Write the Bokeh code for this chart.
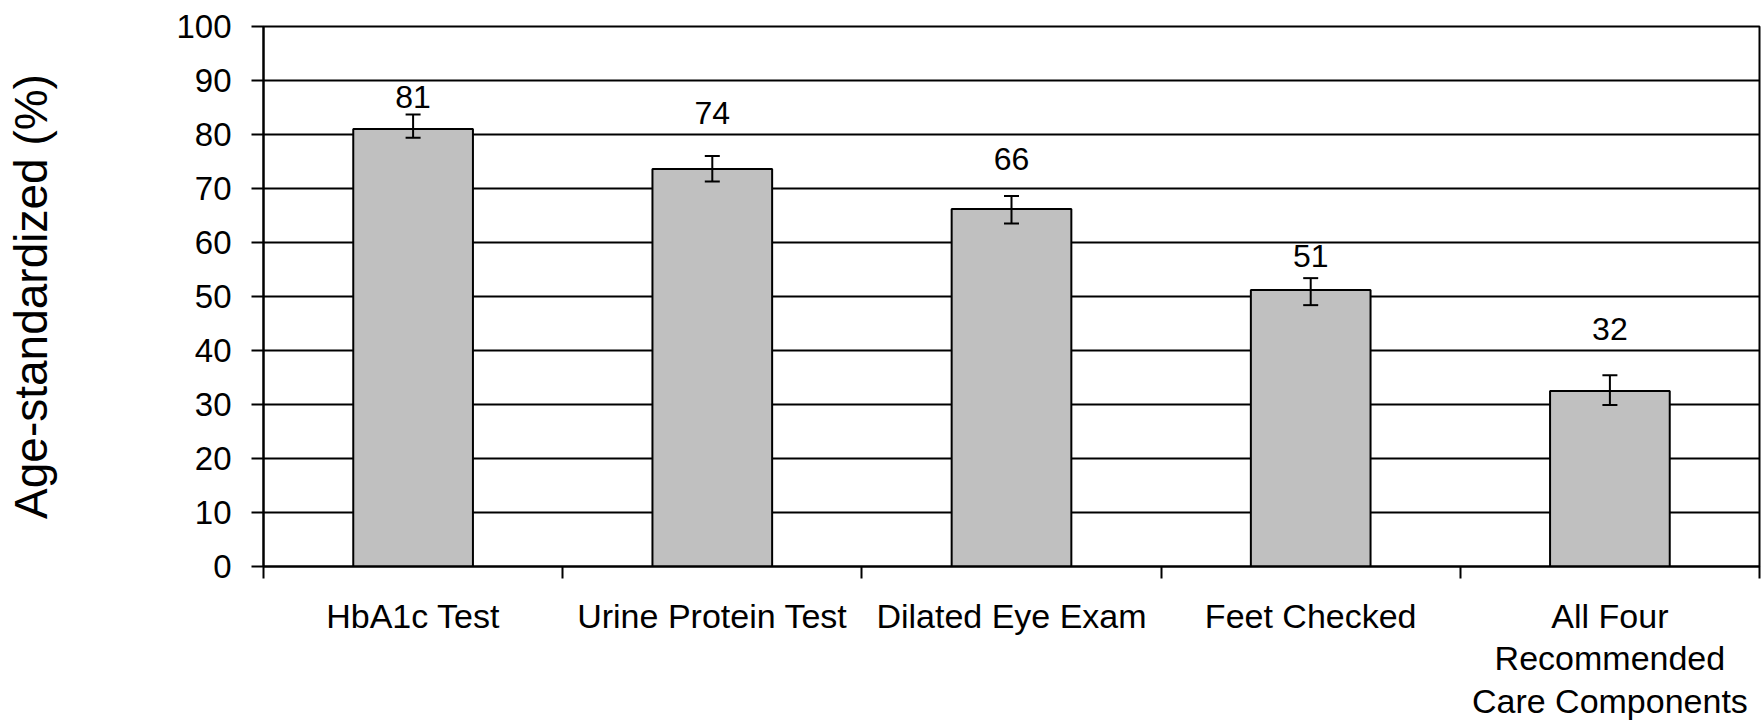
from bokeh.plotting import figure
from bokeh.models import ColumnDataSource, Range1d, FixedTicker, Whisker, TeeHead, LabelSet
from bokeh.core.properties import value
from bokeh.embed import file_html
from bokeh.resources import INLINE

# ---- data ----
categories = ["HbA1c Test", "Urine Protein Test", "Dilated Eye Exam", "Feet Checked",
              "All Four\nRecommended\nCare Components"]
values = [81.0, 73.6, 66.2, 51.2, 32.5]
err_upper = [83.7, 76.0, 68.6, 53.4, 35.4]
err_lower = [79.4, 71.3, 63.5, 48.4, 29.9]
value_labels = ["81", "74", "66", "51", "32"]
label_y = [85.0, 81.9, 73.4, 55.5, 42.0]
y_ticks = [0, 10, 20, 30, 40, 50, 60, 70, 80, 90, 100]

FONT = "Liberation Sans"
n = len(categories)
centers = [i + 0.5 for i in range(n)]

src = ColumnDataSource(dict(x=centers, top=values, up=err_upper, lo=err_lower,
                            lab=value_labels, ly=label_y))

p = figure(width=1762, height=722, output_backend="svg", toolbar_location=None,
           x_range=Range1d(0, n), y_range=Range1d(0, 100),
           min_border_left=263, min_border_right=3, min_border_top=26, min_border_bottom=155)
p.outline_line_color = "black"
p.outline_line_width = 2
p.background_fill_color = "white"
p.border_fill_color = "white"

# grid
p.xgrid.grid_line_color = None
p.ygrid.ticker = FixedTicker(ticks=y_ticks)
p.ygrid.grid_line_color = "black"
p.ygrid.grid_line_width = 2
p.ygrid.grid_line_alpha = 1

# bars
p.vbar(x="x", top="top", width=0.40, source=src, fill_color="#C0C0C0",
       line_color="black", line_width=2)

# error bars
w = Whisker(base="x", upper="up", lower="lo", source=src, line_color="black", line_width=2,
            level="annotation",
            upper_head=TeeHead(size=15, line_color="black", line_width=2),
            lower_head=TeeHead(size=15, line_color="black", line_width=2))
p.add_layout(w)

# value labels
labels = LabelSet(x="x", y="ly", text="lab", source=src, text_align="center",
                  text_baseline="alphabetic", text_font=value(FONT), text_font_size="32px",
                  text_color="black")
p.add_layout(labels)

# y axis
ya = p.yaxis[0]
ya.ticker = FixedTicker(ticks=y_ticks)
ya.axis_line_color = "black"
ya.axis_line_width = 2
ya.major_tick_line_color = "black"
ya.major_tick_line_width = 2
ya.major_tick_out = 12
ya.major_tick_in = 0
ya.minor_tick_line_color = None
ya.major_label_text_font = FONT
ya.major_label_text_font_size = "33px"
ya.major_label_text_color = "black"
ya.major_label_standoff = 20
ya.axis_label = "Age-standardized (%)"
ya.axis_label_text_font = FONT
ya.axis_label_text_font_size = "46px"
ya.axis_label_text_font_style = "normal"
ya.axis_label_text_color = "black"
ya.axis_label_standoff = 116

# x axis: labels at category centers, ticks at category boundaries
xa = p.xaxis[0]
xa.ticker = FixedTicker(ticks=centers, minor_ticks=list(range(n + 1)))
xa.major_label_overrides = {c: lab for c, lab in zip(centers, categories)}
xa.axis_line_color = "black"
xa.axis_line_width = 2
xa.major_tick_line_color = None
xa.major_tick_out = 0
xa.major_tick_in = 0
xa.minor_tick_line_color = "black"
xa.minor_tick_line_width = 2
xa.minor_tick_out = 12
xa.minor_tick_in = 0
xa.major_label_text_font = FONT
xa.major_label_text_font_size = "34px"
xa.major_label_text_line_height = 1.12
xa.major_label_text_color = "black"
xa.major_label_standoff = 18

open("out.html", "w").write(file_html(p, INLINE))
